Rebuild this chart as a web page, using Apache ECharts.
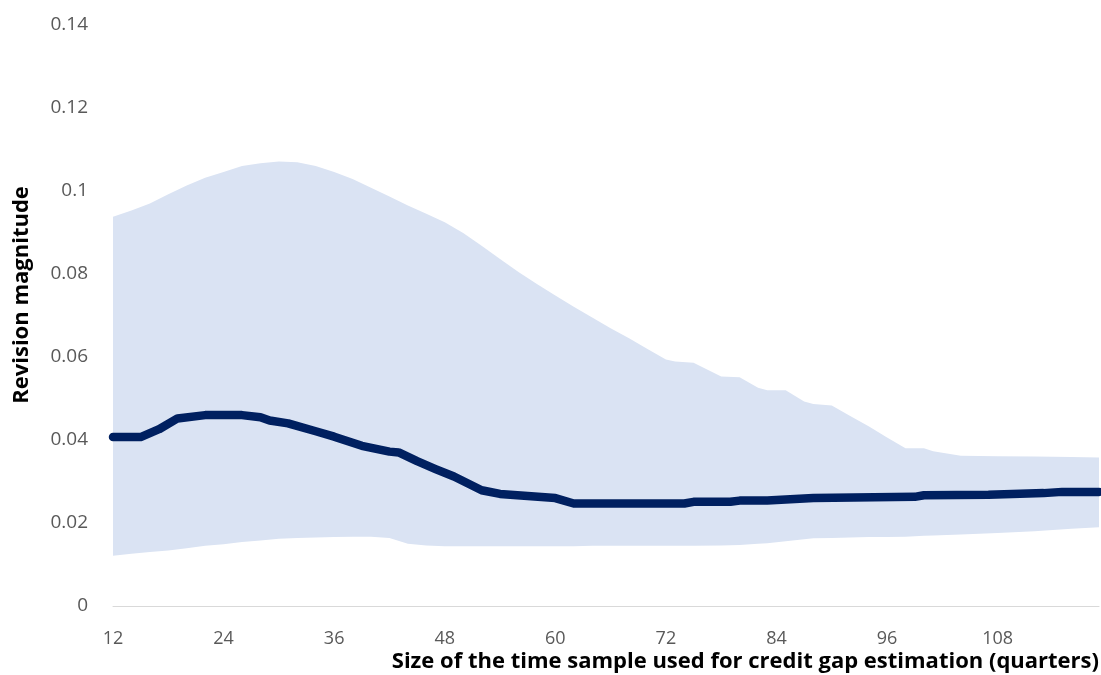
<!DOCTYPE html>
<html>
<head>
<meta charset="utf-8">
<script src="https://cdn.jsdelivr.net/npm/echarts@6/dist/echarts.min.js"></script>
<style>html,body{margin:0;padding:0;background:#fff}#chart{width:1101px;height:675px}</style>
</head>
<body>
<div id="chart"></div>
<script>
// Band (range of revision magnitudes)
var bandQuarters = [12,14,16,18,20,22,24,26,28,30,32,34,36,38,40,42,44,46,48,50,52,54,56,58,60,62,64,66,68,70,72,73,75,78,80,82,83,85,87,88,90,92,94,96,98,100,101,104,108,112,116,119];
var bandUpper = [0.0938,0.0953,0.0970,0.0992,0.1013,0.1032,0.1046,0.1060,0.1067,0.1071,0.1069,0.1060,0.1046,0.1029,0.1008,0.0987,0.0965,0.0945,0.0925,0.0899,0.0868,0.0836,0.0805,0.0776,0.0748,0.0721,0.0695,0.0669,0.0645,0.0619,0.0594,0.0589,0.0586,0.0553,0.0551,0.0526,0.0520,0.0520,0.0493,0.0487,0.0483,0.0458,0.0433,0.0406,0.0380,0.0380,0.0373,0.0362,0.0361,0.0360,0.0359,0.0358];
var bandLower = [0.0121,0.0126,0.0130,0.0134,0.0139,0.0145,0.0149,0.0154,0.0158,0.0162,0.0164,0.0165,0.0166,0.0167,0.0167,0.0164,0.0150,0.0146,0.0144,0.0144,0.0144,0.0144,0.0144,0.0144,0.0144,0.0144,0.0145,0.0145,0.0145,0.0145,0.0145,0.0145,0.0145,0.0146,0.0147,0.0150,0.0151,0.0156,0.0161,0.0163,0.0164,0.0165,0.0166,0.0166,0.0167,0.0169,0.0170,0.0172,0.0176,0.0180,0.0186,0.0190];
// Central line
var lineQuarters = [12,15,17,19,22,26,28,29,31,34,36,39,42,43,45,47,49,52,54,57,60,62,74,75,79,80,83,88,99,100,107,113,115,119];
var lineValues = [0.0407,0.0407,0.0426,0.0452,0.0460,0.0460,0.0455,0.0447,0.0440,0.0421,0.0408,0.0386,0.0372,0.0370,0.0349,0.0330,0.0312,0.0279,0.0270,0.0265,0.0260,0.0247,0.0247,0.0251,0.0251,0.0254,0.0254,0.0260,0.0263,0.0267,0.0268,0.0272,0.0275,0.0275];
var xTitle = 'Size of the time sample used for credit gap estimation (quarters)';
var yTitle = 'Revision magnitude';

var bandData = bandQuarters.map(function(q,i){return [q, bandLower[i], bandUpper[i]];});
var lineData = lineQuarters.map(function(q,i){return [q, lineValues[i]];});

function renderBand(params, api) {
  if (params.dataIndex !== 0) return null;
  var pts = [];
  for (var i = 0; i < bandData.length; i++) pts.push(api.coord([bandData[i][0], bandData[i][2]]));
  for (var j = bandData.length - 1; j >= 0; j--) pts.push(api.coord([bandData[j][0], bandData[j][1]]));
  return {type: 'polygon', shape: {points: pts}, style: {fill: '#dae3f3'}};
}

var chart = echarts.init(document.getElementById('chart'), null, {renderer:'canvas'});
chart.setOption({
  animation: false,
  backgroundColor: '#ffffff',
  grid: {left: 113, right: 2, top: 25, bottom: 69, containLabel: false},
  xAxis: {
    type: 'value', min: 12, max: 119, interval: 12,
    axisLine: {show: true, lineStyle: {color: '#d9d9d9', width: 1}},
    axisTick: {show: false},
    splitLine: {show: false},
    axisLabel: {showMaxLabel: false, color: '#595959', fontSize: 18, fontFamily: 'Open Sans', margin: 24}
  },
  yAxis: {
    type: 'value', min: 0, max: 0.14, interval: 0.02,
    axisLine: {show: false},
    axisTick: {show: false},
    splitLine: {show: false},
    axisLabel: {color: '#595959', fontSize: 19, fontFamily: 'Open Sans', margin: 25}
  },
  graphic: [
    {type: 'text', x: 1099, y: 662, style: {text: xTitle, fill: '#000', font: 'bold 22px "Open Sans"', textAlign: 'right', textVerticalAlign: 'middle'}},
    {type: 'text', x: 22, y: 295, rotation: Math.PI/2, style: {text: yTitle, fill: '#000', font: 'bold 22px "Open Sans"', textAlign: 'center', textVerticalAlign: 'middle'}}
  ],
  series: [
    {type: 'custom', data: bandData, encode: {x: 0, y: [1, 2]}, renderItem: renderBand, silent: true, z: 1},
    {type: 'line', data: lineData, symbol: 'none', lineStyle: {color: '#002060', width: 8.5, cap: 'round', join: 'round'}, z: 3}
  ]
});
</script>
</body>
</html>
